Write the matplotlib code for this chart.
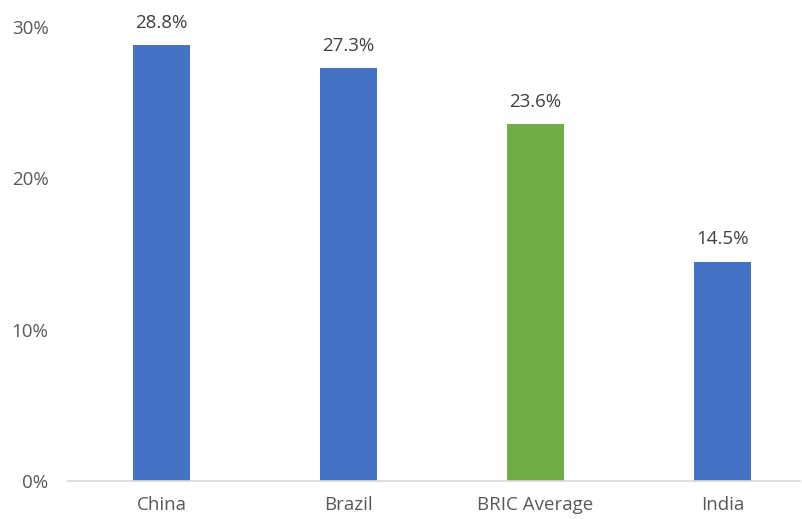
import matplotlib
matplotlib.use("Agg")
import matplotlib.pyplot as plt

categories = ["China", "Brazil", "BRIC Average", "India"]
values = [28.8, 27.3, 23.6, 14.5]
bar_colors = ["#4472C4", "#4472C4", "#70AD47", "#4472C4"]
yticks = [0, 10, 20, 30]

plt.rcParams["font.family"] = ["Open Sans", "DejaVu Sans"]

W, H = 802, 519
fig = plt.figure(figsize=(W / 100, H / 100), dpi=100)
ax = fig.add_axes([68 / W, (H - 481) / H, (800 - 68) / W, (481 - 27) / H])

x = range(len(categories))
bars = ax.bar(x, values, width=0.31, color=bar_colors, zorder=2)

# value labels above each bar
for b, v in zip(bars, values):
    ax.annotate(f"{v:.1f}%", (b.get_x() + b.get_width() / 2, v),
                xytext=(0, 16), textcoords="offset points",
                ha="center", va="center", fontsize=13.5, color="#404040")

ax.set_xlim(-0.5, -0.5 + (800 - 68) / 187)
ax.set_ylim(0, 30)
ax.set_yticks(yticks)
ax.set_yticklabels([f"{t}%" for t in yticks])
ax.set_xticks(list(x))
ax.set_xticklabels(categories)

for s in ["top", "right", "left"]:
    ax.spines[s].set_visible(False)
ax.spines["bottom"].set_color("#D9D9D9")
ax.spines["bottom"].set_linewidth(1.2)

ax.tick_params(axis="y", length=0, pad=14, labelsize=13.5, labelcolor="#595959")
ax.tick_params(axis="x", length=0, pad=11, labelsize=13.5, labelcolor="#595959")

fig.savefig("out.png", dpi=100)
